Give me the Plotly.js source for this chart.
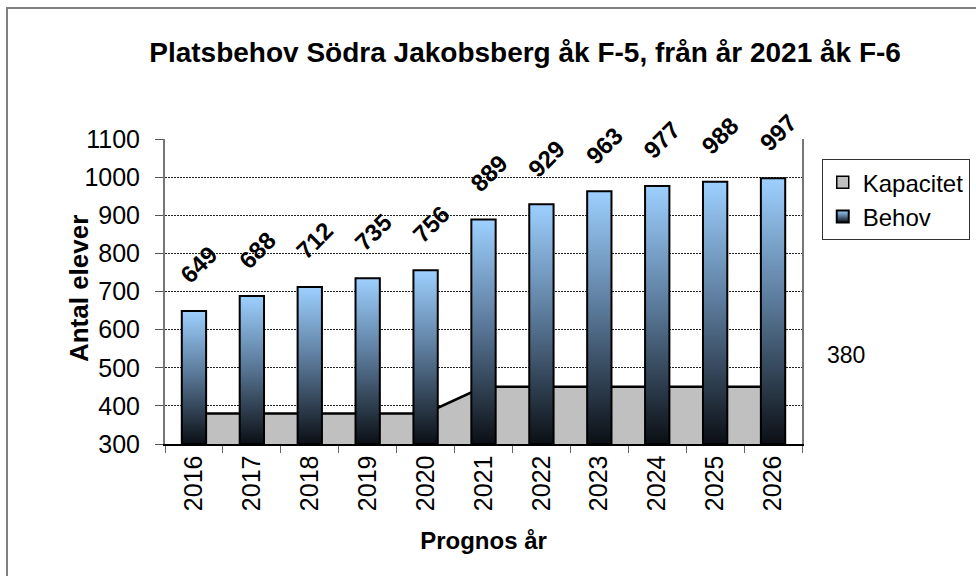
<!DOCTYPE html>
<html>
<head>
<meta charset="utf-8">
<script src="https://cdn.plot.ly/plotly-3.0.1.min.js"></script>
<style>
  html, body { margin: 0; padding: 0; background: #fff; overflow: hidden; }
  #wrap { position: relative; width: 976px; height: 576px; }
  #chart { width: 976px; height: 576px; }
  #frame { position: absolute; left: 6px; top: 7px; width: 1000px; height: 1000px;
           border-left: 2px solid #808080; border-top: 2px solid #808080; pointer-events: none; }
</style>
</head>
<body>
<div id="wrap"><div id="chart"></div><div id="frame"></div></div>
<script>
// ---- data ----
const years = ['2016','2017','2018','2019','2020','2021','2022','2023','2024','2025','2026'];
const behov = [649, 688, 712, 735, 756, 889, 929, 963, 977, 988, 997];
const kapacitet = [380, 380, 380, 380, 380, 450, 450, 450, 450, 450, 450];
const seriesNames = ['Kapacitet', 'Behov'];
const titleText = 'Platsbehov Södra Jakobsberg åk F-5, från år 2021 åk F-6';
const xTitle = 'Prognos år';
const yTitle = 'Antal elever';
const yMin = 300, yMax = 1100;

const FONT = 'Liberation Sans, Arial, sans-serif';
const xRange = [-0.5, years.length - 0.5];

const areaTrace = {
  type: 'scatter', mode: 'lines', name: seriesNames[0],
  x: years, y: kapacitet,
  fill: 'tozeroy', fillcolor: '#c0c0c0',
  line: { color: '#000', width: 2.5 },
  legendgroup: 'a', hoverinfo: 'x+y'
};

const barTrace = {
  type: 'bar', name: seriesNames[1],
  x: years, y: behov.map(v => v - yMin), base: yMin,
  xaxis: 'x2', yaxis: 'y2',
  marker: { color: '#5f82a8', line: { color: '#000', width: 2 } },
  legendgroup: 'b', hoverinfo: 'x'
};

// rotated value labels above each bar
const valueLabels = years.map((yr, i) => ({
  text: String(behov[i]), xref: 'x', yref: 'y', x: i, y: behov[i],
  showarrow: false, textangle: -45, xanchor: 'center', yanchor: 'middle',
  xshift: 5, yshift: 46,
  font: { family: FONT, size: 24, weight: 'bold', color: '#000' }
}));

const layout = {
  width: 976, height: 576,
  margin: { l: 165, r: 174, t: 139, b: 132, autoexpand: false },
  paper_bgcolor: '#fff', plot_bgcolor: '#fff',
  font: { family: FONT, color: '#000' },
  title: { text: titleText, x: 0.538, xanchor: 'center', y: 0.91, yanchor: 'middle',
           font: { family: FONT, size: 28, weight: 'bold', color: '#000' } },
  bargap: 0.58,
  showlegend: true,
  legend: { x: 1.031, y: 0.934, xanchor: 'left', yanchor: 'top',
            bordercolor: '#333', borderwidth: 1, bgcolor: '#fff',
            font: { family: FONT, size: 24, color: '#000' },
            tracegroupgap: 22, traceorder: 'normal' },
  xaxis: {
    type: 'category', categoryorder: 'array', categoryarray: years, range: xRange, autorange: false,
    tickson: 'boundaries', ticks: 'outside', ticklen: 7, tickcolor: '#666', tickwidth: 1,
    tickangle: -90, tickfont: { family: FONT, size: 25, color: '#000' },
    showline: true, linecolor: '#000', linewidth: 1.5, showgrid: false, zeroline: false,
    title: { text: xTitle, font: { family: FONT, size: 24, weight: 'bold', color: '#000' }, standoff: 22 }
  },
  yaxis: {
    range: [yMin, yMax], dtick: 100, tick0: 0,
    ticks: 'outside', ticklen: 8, tickcolor: '#555', tickwidth: 1,
    tickfont: { family: FONT, size: 25, color: '#000' }, ticklabelstandoff: 10,
    showline: true, linecolor: '#777', linewidth: 2, mirror: true,
    showgrid: true, gridcolor: '#222', gridwidth: 1, griddash: '2px,1px', zeroline: false
  },
  xaxis2: { type: 'category', categoryorder: 'array', categoryarray: years, range: xRange, autorange: false,
            overlaying: 'x', anchor: 'y2', visible: false, showgrid: false },
  yaxis2: { range: [yMin, yMax], overlaying: 'y', anchor: 'x2', visible: false, showgrid: false, zeroline: false },
  annotations: valueLabels.concat([
    {
      text: yTitle, xref: 'paper', yref: 'paper', x: -0.134, y: 0.51,
      textangle: -90, showarrow: false, xanchor: 'center', yanchor: 'middle',
      font: { family: FONT, size: 26, weight: 'bold', color: '#000' }
    },
    {
      text: String(kapacitet[0]), xref: 'paper', yref: 'paper',
      x: 1.069, y: 0.292, showarrow: false, xanchor: 'center', yanchor: 'middle',
      font: { family: FONT, size: 23, color: '#000' }
    }
  ])
};

Plotly.newPlot('chart', [areaTrace, barTrace], layout, { staticPlot: true, displayModeBar: false })
  .then(gd => {
    const svgNS = 'http://www.w3.org/2000/svg';
    const defs = gd.querySelector('.main-svg defs');
    const grad = document.createElementNS(svgNS, 'linearGradient');
    grad.setAttribute('id', 'behovGrad');
    grad.setAttribute('x1', '0'); grad.setAttribute('y1', '0');
    grad.setAttribute('x2', '0'); grad.setAttribute('y2', '1');
    [['0%', '#9dd0ff'], ['45%', '#5d7d9e'], ['100%', '#0b0f14']].forEach(([o, c]) => {
      const s = document.createElementNS(svgNS, 'stop');
      s.setAttribute('offset', o); s.setAttribute('stop-color', c);
      grad.appendChild(s);
    });
    defs.appendChild(grad);
    gd.querySelectorAll('.barlayer .point path').forEach(p => { p.style.fill = 'url(#behovGrad)'; });
    gd.querySelectorAll('.legend .traces').forEach(t => {
      const label = t.textContent;
      if (label.indexOf(seriesNames[1]) >= 0) {
        t.querySelectorAll('.legendpoints path').forEach(p => { p.style.fill = 'url(#behovGrad)'; });
      } else if (label.indexOf(seriesNames[0]) >= 0) {
        t.querySelectorAll('.legendlines path, .legendfill path').forEach(p => { p.style.display = 'none'; });
        const sq = document.createElementNS(svgNS, 'path');
        sq.setAttribute('d', 'M14,6H26V-6H14Z');
        sq.setAttribute('style', 'fill:#c0c0c0;stroke:#000;stroke-width:1.5');
        const layer = t.querySelector('.layers') || t;
        layer.appendChild(sq);
      }
    });
  });
</script>
</body>
</html>
